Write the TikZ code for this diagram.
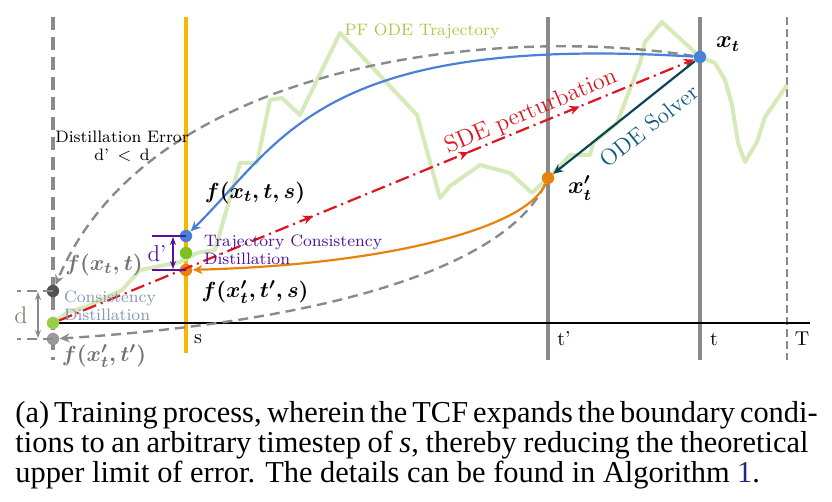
\documentclass[tikz,border=0pt]{standalone}
\usepackage{amsmath}
\usepackage{fontspec}
\usepackage{tikz}
\usetikzlibrary{arrows.meta,positioning,calc,decorations.markings}
\newfontfamily\capfont{Liberation Serif}
\definecolor{tcBlue}{HTML}{4A80D8}
\definecolor{tcOrange}{HTML}{E8820E}
\definecolor{tcGreen}{HTML}{7CC11C}
\definecolor{tcTraj}{HTML}{D6E9B8}
\definecolor{tcLeaf}{HTML}{A6CB45}
\definecolor{tcYellow}{HTML}{F8B800}
\definecolor{tcGray}{HTML}{8A8A8A}
\definecolor{tcRed}{HTML}{DE1420}
\definecolor{tcTeal}{HTML}{0B4656}
\definecolor{tcTealText}{HTML}{0E5A7A}
\definecolor{tcPurple}{HTML}{55129C}
\definecolor{tcSlate}{HTML}{8797B4}
\definecolor{tcBrown}{HTML}{8C8278}
\definecolor{tcNavy}{HTML}{1E2A86}

\begin{document}
\begin{tikzpicture}[x=0.5pt,y=-0.5pt,
  dot/.style={circle,inner sep=0pt,minimum size=6.2pt},
  lbl/.style={font=\fontsize{8.3}{9}\selectfont},
  mlbl/.style={font=\fontsize{11}{13}\selectfont\boldmath},
  tip/.style={-{Stealth[length=5pt,width=4.5pt]}},
  guide/.style={tcGray,line width=1.2pt,dash pattern=on 5pt off 3pt},
  bar/.style={line width=2pt},
  traj/.style={tcTraj,line width=2pt,line join=round},
  capline/.style={anchor=base west,inner sep=0pt,font=\capfont\fontsize{15.2}{16}\selectfont}]
  \useasboundingbox (0,0) rectangle (832,502);

  % time axis and time steps
  \draw[bar,tcGray,dash pattern=on 6.5pt off 3.5pt] (53,17) -- (53,360);
  \draw[bar,tcYellow] (186,17) -- (186,353);
  \foreach \x in {548,700} \draw[bar,tcGray] (\x,17) -- (\x,360);
  \draw[tcGray,line width=1pt,dash pattern=on 4pt off 2pt] (787,17) -- (787,360);
  \draw[line width=1pt] (53,323) -- (810,323);
  \node[lbl,font=\fontsize{10}{12}\selectfont] (ls) at (198,339) {s};
  \node[lbl,font=\fontsize{10}{12}\selectfont] (ltp) at (564,339) {t'};
  \node[lbl,font=\fontsize{10}{12}\selectfont] (lt) at (714,339) {t};
  \node[lbl,font=\fontsize{10}{12}\selectfont] (lT) at (802,339) {T};

  % PF ODE trajectory
  \draw[traj] plot coordinates {(53,323) (68,312) (86,307) (122,290) (140,270) (160,266) (180,262)
    (197,253) (215,250) (240,163) (257,163) (270,100) (282,98) (300,115) (340,33) (417,115)
    (440,198) (450,186) (480,165) (510,173) (532,193) (548,178) (560,166) (570,155) (590,155)
    (593,143) (617,123) (640,63) (645,42) (662,22) (700,57) (715,63) (725,80) (732,105)
    (738,143) (745,162) (757,142) (765,117) (787,85)};
  \node[lbl,text=tcLeaf] (lpf) at (422,31) {PF ODE Trajectory};

  % points
  \node[dot,fill=tcBlue] (xt) at (700,57) {};
  \node[dot,fill=tcOrange] (xp) at (548,178) {};
  \node[dot,fill=tcBlue] (fb) at (186,236) {};
  \node[dot,fill=tcGreen] (fg) at (186,253) {};
  \node[dot,fill=tcOrange] (fo) at (186,270) {};
  \node[dot,fill=black!68] (ca) at (53,291) {};
  \node[dot,fill=tcGreen!80] (gz) at (53,323) {};
  \node[dot,fill=black!40] (cb) at (53,339) {};

  % consistency distillation (dashed)
  \draw[guide,tip] (xt) .. controls (500,25) and (150,60) .. (ca);
  \draw[guide,tip] (xp) .. controls (510,260) and (350,320) .. (cb);

  % trajectory consistency distillation
  \draw[tcBlue,line width=1.1pt,tip] (xt) .. controls (320,34) and (283,140) .. (fb);
  \draw[tcOrange,line width=1.1pt,tip] (xp) .. controls (525,230) and (380,265) .. (fo);

  % SDE perturbation and ODE solver
  \draw[tcRed,line width=1.1pt,dash pattern=on 7pt off 2.5pt on 1pt off 2.5pt,tip,
    decoration={markings,
      mark=at position 0.4 with {\arrow{Stealth[length=5pt,width=4.5pt]}},
      mark=at position 0.645 with {\arrow{Stealth[length=5pt,width=4.5pt]}},
      mark=at position 0.82 with {\arrow{Stealth[length=5pt,width=4.5pt]}}},
    postaction={decorate}] (gz) -- (xt);
  \node[text=tcRed,rotate=23,font=\fontsize{12}{14}\selectfont] (lsde) at (531,112) {SDE perturbation};
  \draw[tcTeal,line width=1.1pt,tip] (xt) -- (xp);
  \node[text=tcTealText,rotate=38.5,font=\fontsize{11.5}{14}\selectfont] (lode) at (649,126) {ODE Solver};

  % distillation errors
  \draw[tcPurple,line width=1pt] (fb.center) -- ++(-34,0) (fo.center) -- ++(-34,0);
  \draw[tcPurple,line width=1pt,{Stealth[length=4pt]}-{Stealth[length=4pt]}] (173,237) -- (173,269);
  \node[text=tcPurple,font=\fontsize{11.5}{12}\selectfont] (ldp) at (157,254) {d'};
  \draw[guide] (ca.center) -- (17,291) (cb.center) -- (17,339);
  \draw[tcGray,line width=1pt,{Stealth[length=4pt]}-{Stealth[length=4pt]}] (38,292) -- (38,338);
  \node[text=tcBrown,font=\fontsize{12}{12}\selectfont] (ld) at (21,315) {d};
  \node[lbl,align=center] (lerr) at (122,146) {Distillation Error\\d'\, <\, d};
  \node[lbl,align=left,text=tcPurple,anchor=west] (ltcd) at (197,250) {Trajectory Consistency\\Distillation};
  \node[lbl,align=left,text=tcSlate,anchor=west] (lcd) at (57,306) {Consistency\\Distillation};

  % point labels
  \node[mlbl,font=\fontsize{12}{14}\selectfont\boldmath] (lxt) at (728,44) {$x_t$};
  \node[mlbl,font=\fontsize{12}{14}\selectfont\boldmath] (lxp) at (580,188) {$x'_t$};
  \node[mlbl] (lfb) at (255,193) {$f(x_t,t,s)$};
  \node[mlbl] (lfo) at (255,292) {$f(x'_t,t',s)$};
  \node[mlbl,text=black!55] (lca) at (104,265) {$f(x_t,t)$};
  \node[mlbl,text=black!55] (lcb) at (104,356) {$f(x'_t,t')$};

  % caption
  \node[capline] (cap1) at (15,423) {\makebox[396.5pt][s]{(a) Training process, wherein the TCF expands the boundary condi-}};
  \node[capline] (cap2) at (15,453) {\makebox[396.5pt][s]{tions to an arbitrary timestep of \textit{s}, thereby reducing the theoretical}};
  \node[capline] (cap3) at (15,483) {upper limit of error. The details can be found in Algorithm \textcolor{tcNavy}{1}.};
\end{tikzpicture}
\end{document}
